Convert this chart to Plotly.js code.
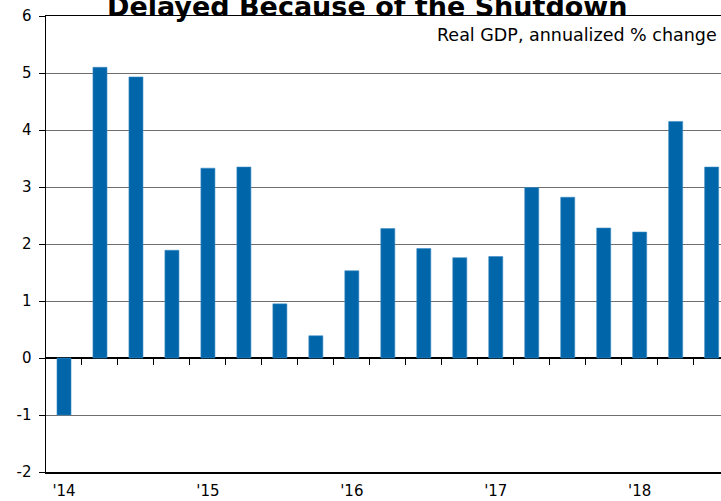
<!DOCTYPE html>
<html>
<head>
<meta charset="utf-8">
<script src="https://cdn.plot.ly/plotly-3.0.1.min.js"></script>
<style>html,body{margin:0;padding:0;background:#fff;}#chart{width:721px;height:501px;}</style>
</head>
<body>
<div id="chart"></div>
<script>
const quarters = ["2014Q1","2014Q2","2014Q3","2014Q4","2015Q1","2015Q2","2015Q3","2015Q4","2016Q1","2016Q2","2016Q3","2016Q4","2017Q1","2017Q2","2017Q3","2017Q4","2018Q1","2018Q2","2018Q3"];
const gdpGrowth = [-1.0, 5.1, 4.93, 1.89, 3.33, 3.35, 0.95, 0.39, 1.53, 2.27, 1.92, 1.76, 1.78, 2.99, 2.82, 2.28, 2.21, 4.15, 3.35];
const yearTickPos = [0, 4, 8, 12, 16];
const yearTickText = ["'14", "'15", "'16", "'17", "'18"];
const yTickVals = [-2, -1, 0, 1, 2, 3, 4, 5, 6];
const yTickText = ["-2", "-1", "0", "1", "2", "3", "4", "5", "6"];
const boundaryTicks = [0.5,1.5,2.5,3.5,4.5,5.5,6.5,7.5,8.5,9.5,10.5,11.5,12.5,13.5,14.5,15.5,16.5,17.5,18.5];

const xIdx = quarters.map((q, i) => i);

const trace = {
  type: 'bar',
  x: xIdx,
  y: gdpGrowth,
  hovertext: quarters,
  hoverinfo: 'text+y',
  width: 0.39,
  marker: {color: '#0066a9', line: {color: '#3d8cc4', width: 0.6}},
  xaxis: 'x',
  yaxis: 'y'
};
const tickTrace = {
  type: 'scatter', mode: 'none', x: boundaryTicks, y: boundaryTicks.map(() => 0),
  xaxis: 'x2', yaxis: 'y', hoverinfo: 'skip', showlegend: false
};

const layout = {
  width: 721, height: 501,
  margin: {l: 45.7, r: 0, t: 16, b: 29.3},
  paper_bgcolor: '#fff', plot_bgcolor: '#fff',
  showlegend: false,
  bargap: 0,
  xaxis: {
    range: [-0.5, 18.26],
    tickvals: yearTickPos, ticktext: yearTickText,
    ticks: '', showgrid: false, zeroline: false,
    showline: true, mirror: true, linecolor: '#000', linewidth: 1.5,
    tickfont: {family: 'DejaVu Sans, sans-serif', size: 15, color: '#000'},
    ticklabelstandoff: 4
  },
  xaxis2: {
    overlaying: 'x', anchor: 'free', position: 0.25,
    range: [-0.5, 18.26], tickvals: boundaryTicks,
    showticklabels: false, ticks: 'outside', ticklen: 6, tickcolor: '#000', tickwidth: 1,
    showgrid: false, zeroline: false, showline: false
  },
  yaxis: {
    range: [-2, 6], tickvals: yTickVals, ticktext: yTickText,
    showgrid: true, gridcolor: '#6e6e6e', gridwidth: 1,
    zeroline: true, zerolinecolor: '#000', zerolinewidth: 1.5,
    showline: true, linecolor: '#000', linewidth: 1.5,
    ticks: 'outside', ticklen: 6, tickcolor: '#000', tickwidth: 1,
    tickfont: {family: 'DejaVu Sans, sans-serif', size: 15, color: '#000'},
    ticklabelstandoff: 4
  },
  annotations: [
    {text: '<b>Delayed Because of the Shutdown</b>', xref: 'paper', yref: 'paper',
     x: 0.477, y: 1, xanchor: 'center', yanchor: 'bottom', yshift: -8, showarrow: false,
     font: {family: 'DejaVu Sans, sans-serif', size: 27, color: '#000'}},
    {text: 'Real GDP, annualized % change', xref: 'paper', yref: 'paper',
     x: 1, y: 1, xanchor: 'right', yanchor: 'top', xshift: -2, yshift: -7, showarrow: false,
     font: {family: 'DejaVu Sans, sans-serif', size: 17.5, color: '#000'}}
  ]
};

Plotly.newPlot('chart', [trace, tickTrace], layout, {staticPlot: true, displayModeBar: false});
</script>
</body>
</html>
